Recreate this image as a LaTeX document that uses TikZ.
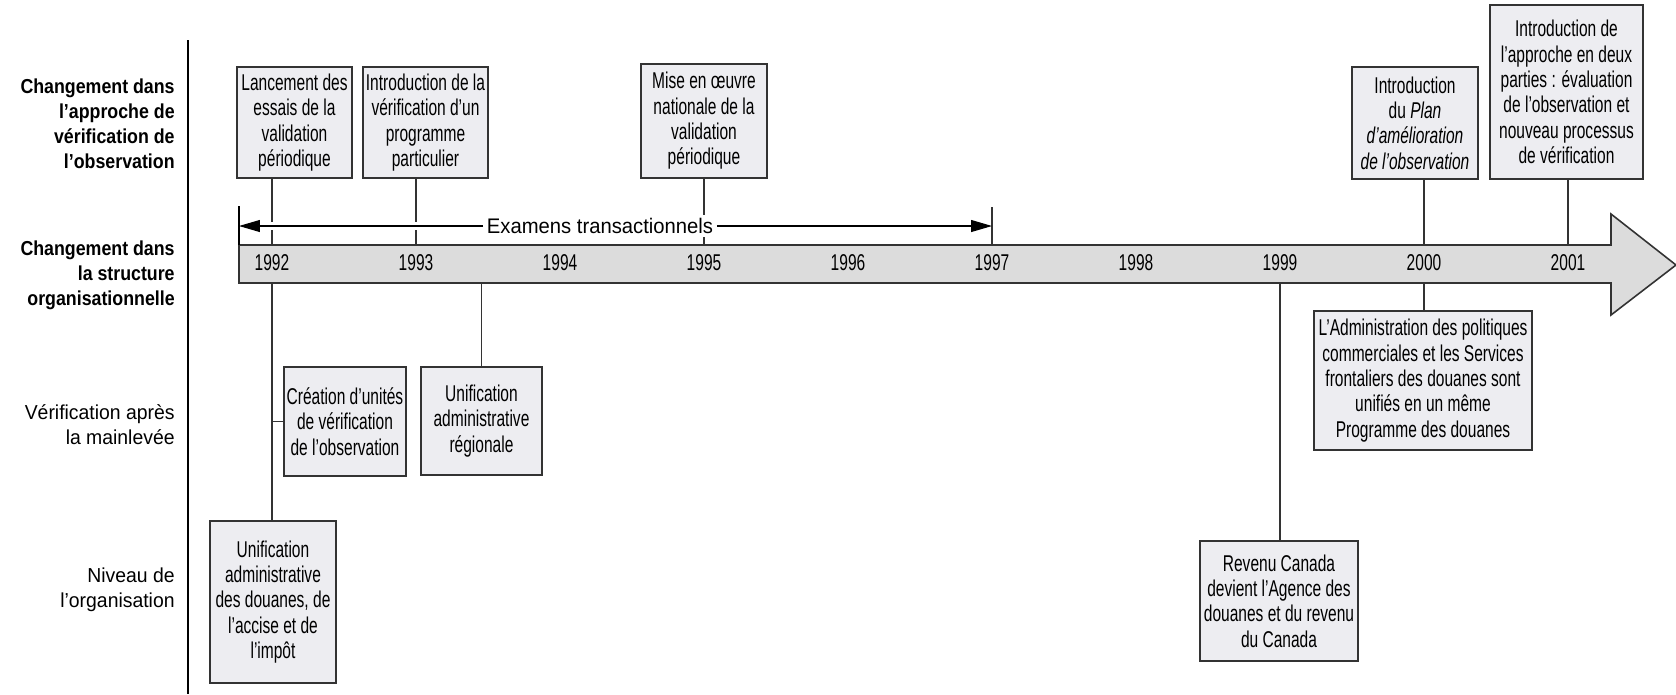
\documentclass[tikz,border=0pt]{standalone}
\usepackage{fontspec}
\setmainfont{Liberation Sans}
\newfontfamily\narrowfont[FakeStretch=0.68]{Liberation Sans}
\newfontfamily\sidefont[FakeStretch=0.96]{Liberation Sans}
\newfontfamily\headfont[FakeStretch=0.88]{Liberation Sans}
\usetikzlibrary{arrows.meta}
\definecolor{boxfill}{HTML}{EDEDF1}
\definecolor{barfill}{HTML}{DCDCDC}
\definecolor{edge}{HTML}{333333}

\begin{document}
\begin{tikzpicture}[x=0.02cm, y=-0.02cm,
	evbox/.style={draw=edge, line width=0.8pt, fill=boxfill, align=center, inner sep=0pt,
		font=\narrowfont\fontsize{13}{14.4}\selectfont},
	boxsize/.style 2 args={minimum width=#1*0.02cm, minimum height=#2*0.02cm},
	tick/.style={draw=edge, line width=0.7pt},
	side/.style={anchor=east, align=right, inner sep=0pt, font=\sidefont\fontsize{11.5}{14.2}\selectfont},
	sidebold/.style={side, font=\headfont\fontsize{11.5}{14.2}\selectfont\bfseries},
	span/.style={-{Triangle[length=0.42cm,width=0.24cm]}, line width=0.6pt},
	]
	\useasboundingbox (0,0) rectangle (1676,694);

	% row labels, left of the divider
	\node[sidebold] (s1) at (175,124) {Changement dans\\l’approche de\\vérification de\\l’observation};
	\node[sidebold] (s2) at (175,275) {Changement dans\\la structure\\organisationnelle};
	\node[side] (s3) at (175,425) {Vérification après\\la mainlevée};
	\node[side] (s4) at (175,590) {Niveau de\\l’organisation};
	\draw[line width=1.4pt] (188,40) -- (188,694);

	% the time arrow
	\draw[draw=edge, line width=0.9pt, fill=barfill] (239,245) -- (1611,245) -- (1611,214) -- (1676,265)
		-- (1611,315) -- (1611,283) -- (239,283) -- cycle;
	\coordinate (bartop) at (0,245);
	\coordinate (barbot) at (0,283);
	\foreach \yr [count=\i from 0] in {1992,...,2001} {
		\node[inner sep=0pt, font=\narrowfont\fontsize{13}{14.4}\selectfont] (y\yr) at ({272+144*\i},263) {\yr};
	}

	% events above the arrow
	\node[evbox, boxsize={115}{111}] (b1) at (294.5,122.5) {Lancement des\\essais de la\\validation\\périodique};
	\node[evbox, boxsize={125}{111}] (b2) at (425.5,122.5) {Introduction de la\\vérification d’un\\programme\\particulier};
	\node[evbox, boxsize={126}{114}] (b3) at (704,121) {Mise en œuvre\\nationale de la\\validation\\périodique};
	\node[evbox, boxsize={126}{112}] (b4) at (1415,123) {Introduction\\du \textit{Plan}\\\textit{d’amélioration}\\\textit{de l’observation}};
	\node[evbox, boxsize={153}{174}] (b5) at (1566.5,92) {Introduction de\\l’approche en deux\\parties : évaluation\\de l’observation et\\nouveau processus\\de vérification};

	% events below the arrow
	\node[evbox, boxsize={122}{109}] (b6) at (345,421.5) {Création d’unités\\de vérification\\de l’observation};
	\node[evbox, boxsize={121}{108}] (b7) at (481.5,421) {Unification\\administrative\\régionale};
	\node[evbox, boxsize={126}{162}] (b8) at (273,602) {Unification\\administrative\\des douanes, de\\l’accise et de\\l’impôt};
	\node[evbox, boxsize={158}{120}] (b9) at (1279,601) {Revenu Canada\\devient l’Agence des\\douanes et du revenu\\du Canada};
	\node[evbox, boxsize={218}{139}] (b10) at (1423,380.5) {L’Administration des politiques\\commerciales et les Services\\frontaliers des douanes sont\\unifiés en un même\\Programme des douanes};

	% ticks from the boxes to the arrow
	\draw[tick] (b1.south -| y1992) -- (y1992 |- bartop);
	\draw[tick] (b2.south -| y1993) -- (y1993 |- bartop);
	\draw[tick] (b3.south -| y1995) -- (y1995 |- bartop);
	\draw[tick] (b4.south -| y2000) -- (y2000 |- bartop);
	\draw[tick] (b5.south -| y2001) -- (y2001 |- bartop);
	\draw[tick] (y1992 |- barbot) -- (b8.north -| y1992);
	\draw[tick] (b6.west) -- (b6.west -| y1992);
	\draw[tick] (b7.north) -- (b7.north |- barbot);
	\draw[tick] (y1999 |- barbot) -- (b9.north -| y1999);
	\draw[tick] (y2000 |- barbot) -- (b10.north -| y2000);

	% span of the transactional reviews
	\node[fill=white, inner sep=2pt, font=\sidefont\fontsize{12}{14}\selectfont] (ex) at (600,226) {Examens transactionnels};
	\coordinate (exl) at (239,226);
	\coordinate (exr) at (992,226);
	\draw[white, line width=4.5pt] (exl) -- (ex.west);
	\draw[white, line width=4.5pt] (exr) -- (ex.east);
	\draw[line width=1pt] (239,206) -- (239,245);
	\draw[draw=edge, line width=0.8pt] (992,207) -- (992,245);
	\draw[span] (ex.west) -- (exl);
	\draw[span] (ex.east) -- (exr);
\end{tikzpicture}
\end{document}
